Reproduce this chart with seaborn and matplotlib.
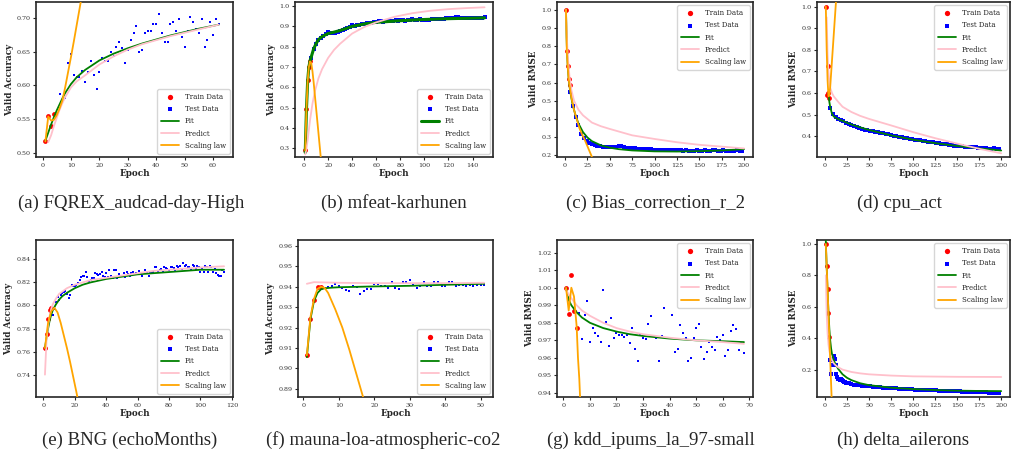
import matplotlib
matplotlib.use("Agg")
import matplotlib.pyplot as plt
import seaborn as sns
from matplotlib.ticker import MultipleLocator

sns.set_theme(style="ticks")
plt.rcParams['font.family'] = ['DejaVu Serif']

# ---------------- (a) FQREX_audcad-day-High ----------------
a_train_x = [1, 2, 3, 4]
a_train_y = [0.517, 0.554, 0.540, 0.557]
a_test_x = list(range(5, 63))
a_test_y = [0.554, 0.588, 0.579, 0.581, 0.633, 0.647, 0.616, 0.612, 0.612, 0.622,
            0.605, 0.620, 0.636, 0.616, 0.595, 0.620, 0.640, 0.636, 0.636, 0.650,
            0.643, 0.657, 0.664, 0.655, 0.633, 0.653, 0.667, 0.677, 0.688, 0.650,
            0.653, 0.677, 0.681, 0.681, 0.691, 0.691, 0.705, 0.677, 0.664, 0.664,
            0.691, 0.694, 0.681, 0.698, 0.671, 0.657, 0.681, 0.701, 0.694, 0.684,
            0.677, 0.698, 0.657, 0.667, 0.694, 0.674, 0.698, 0.691]
a_fit_x = [1, 2, 3, 4, 5, 6, 7, 8, 10, 12, 15, 20, 25, 30, 35, 40, 45, 50, 55, 62]
a_fit_y = [0.518, 0.530, 0.542, 0.553, 0.563, 0.572, 0.581, 0.589, 0.602, 0.612,
           0.623, 0.637, 0.647, 0.655, 0.662, 0.668, 0.674, 0.679, 0.684, 0.690]
a_pred_x = [2, 3, 4, 5, 6, 7, 8, 10, 12, 15, 20, 25, 30, 35, 40, 45, 50, 55, 62]
a_pred_y = [0.516, 0.526, 0.540, 0.552, 0.564, 0.574, 0.583, 0.597, 0.606, 0.615,
            0.631, 0.643, 0.653, 0.661, 0.667, 0.673, 0.678, 0.683, 0.690]
a_law_x = [1, 2, 3, 4, 5, 6, 7, 8, 9, 10, 11, 12, 13, 14]
a_law_y = [0.517, 0.554, 0.548, 0.549, 0.556, 0.566, 0.578, 0.598, 0.620, 0.642,
           0.665, 0.689, 0.713, 0.737]

# ---------------- (b) mfeat-karhunen ----------------
b_train_x = [1, 2, 3, 4, 5]
b_train_y = [0.290, 0.495, 0.636, 0.700, 0.730]
b_test_x = list(range(6, 151, 2))
b_test_y = [0.745, 0.790, 0.815, 0.835, 0.845, 0.855, 0.862, 0.874, 0.868, 0.866,
            0.870, 0.872, 0.878, 0.882, 0.888, 0.892, 0.898, 0.905, 0.904, 0.905,
            0.908, 0.912, 0.914, 0.916, 0.917, 0.918, 0.921, 0.924, 0.926, 0.925,
            0.924, 0.926, 0.928, 0.927, 0.929, 0.930, 0.928, 0.930, 0.931, 0.929,
            0.932, 0.933, 0.934, 0.932, 0.933, 0.935, 0.933, 0.932, 0.930, 0.933,
            0.936, 0.937, 0.936, 0.938, 0.937, 0.938, 0.940, 0.941, 0.942, 0.943,
            0.944, 0.946, 0.943, 0.942, 0.940, 0.941, 0.942, 0.941, 0.940, 0.941,
            0.942, 0.943, 0.944]
b_fit_x = [1, 2, 3, 4, 5, 6, 8, 10, 12, 15, 20, 25, 30, 40, 50, 60, 80, 100, 120, 150]
b_fit_y = [0.280, 0.490, 0.630, 0.700, 0.730, 0.750, 0.790, 0.815, 0.835, 0.850,
           0.865, 0.872, 0.880, 0.900, 0.912, 0.920, 0.928, 0.934, 0.938, 0.942]
b_pred_x = [1, 2, 3, 5, 7, 9, 12, 15, 20, 25, 30, 40, 50, 60, 75, 90, 105, 120, 135, 150]
b_pred_y = [0.270, 0.300, 0.340, 0.440, 0.520, 0.580, 0.645, 0.690, 0.745, 0.785,
            0.815, 0.865, 0.897, 0.920, 0.947, 0.965, 0.977, 0.985, 0.990, 0.994]
b_law_x = [1, 2, 3, 4, 5, 6, 7, 8, 10, 12, 14, 15]
b_law_y = [0.290, 0.490, 0.630, 0.700, 0.728, 0.720, 0.680, 0.625, 0.500, 0.375,
           0.250, 0.190]

# ---------------- (c) Bias_correction_r_2 ----------------
c_train_x = [1, 2, 3, 4, 5]
c_train_y = [1.000, 0.773, 0.688, 0.620, 0.587]
c_test_x = list(range(6, 199, 3))
c_test_y = [0.550, 0.470, 0.410, 0.365, 0.320, 0.295, 0.280, 0.270, 0.260, 0.256,
            0.252, 0.249, 0.247, 0.246, 0.245, 0.245, 0.246, 0.248, 0.251, 0.249,
            0.244, 0.241, 0.240, 0.238, 0.238, 0.237, 0.236, 0.236, 0.235, 0.234,
            0.233, 0.232, 0.232, 0.231, 0.230, 0.231, 0.230, 0.229, 0.228, 0.229,
            0.228, 0.227, 0.226, 0.227, 0.225, 0.224, 0.226, 0.228, 0.226, 0.225,
            0.228, 0.226, 0.224, 0.227, 0.229, 0.226, 0.225, 0.227, 0.226, 0.225,
            0.224, 0.226, 0.227, 0.225, 0.224]
c_fit_x = [1, 2, 3, 4, 5, 6, 8, 10, 12, 15, 20, 25, 30, 40, 50, 60, 75, 100, 125, 150, 175, 200]
c_fit_y = [1.000, 0.800, 0.690, 0.625, 0.580, 0.545, 0.490, 0.450, 0.415, 0.375,
           0.328, 0.298, 0.278, 0.255, 0.242, 0.234, 0.227, 0.222, 0.221, 0.223,
           0.227, 0.234]
c_pred_x = [1, 2, 3, 5, 7, 10, 15, 20, 30, 40, 50, 75, 100, 125, 150, 175, 200]
c_pred_y = [1.000, 0.850, 0.750, 0.630, 0.560, 0.500, 0.450, 0.420, 0.380, 0.360,
            0.345, 0.310, 0.290, 0.272, 0.258, 0.248, 0.238]
c_law_x = [1, 2, 3, 4, 5, 7, 10, 13, 16, 19, 22, 25, 28, 31]
c_law_y = [1.000, 0.770, 0.690, 0.620, 0.585, 0.520, 0.450, 0.400, 0.350, 0.315,
           0.285, 0.250, 0.215, 0.180]

# ---------------- (d) cpu_act ----------------
d_train_x = [1, 2, 3, 4, 5]
d_train_y = [1.000, 0.590, 0.727, 0.600, 0.578]
d_test_x = list(range(6, 199, 3))
d_test_y = [0.530, 0.505, 0.490, 0.481, 0.474, 0.469, 0.464, 0.458, 0.452, 0.447,
            0.442, 0.437, 0.434, 0.431, 0.428, 0.425, 0.423, 0.421, 0.419, 0.417,
            0.414, 0.412, 0.409, 0.406, 0.403, 0.401, 0.399, 0.397, 0.394, 0.392,
            0.389, 0.387, 0.385, 0.384, 0.382, 0.380, 0.378, 0.376, 0.374, 0.373,
            0.371, 0.369, 0.367, 0.366, 0.364, 0.362, 0.360, 0.358, 0.357, 0.356,
            0.354, 0.353, 0.352, 0.351, 0.350, 0.349, 0.348, 0.347, 0.346, 0.345,
            0.344, 0.344, 0.345, 0.343, 0.341]
d_fit_x = [4, 5, 6, 8, 10, 15, 20, 30, 40, 50, 75, 100, 125, 150, 175, 200]
d_fit_y = [0.600, 0.560, 0.535, 0.505, 0.492, 0.480, 0.472, 0.455, 0.442, 0.430,
           0.405, 0.385, 0.369, 0.356, 0.345, 0.335]
d_pred_x = [2, 3, 4, 5, 6, 8, 10, 15, 20, 30, 40, 50, 75, 100, 125, 150, 175, 200]
d_pred_y = [0.950, 0.780, 0.700, 0.655, 0.625, 0.600, 0.585, 0.560, 0.537, 0.513,
            0.495, 0.481, 0.451, 0.420, 0.392, 0.367, 0.343, 0.322]
d_law_x = [1, 2, 3, 4, 5, 6, 8, 10, 12, 13]
d_law_y = [1.000, 0.800, 0.660, 0.585, 0.590, 0.630, 0.750, 0.870, 0.990, 1.050]

# ---------------- (e) BNG (echoMonths) ----------------
e_train_x = [1, 2, 3, 4, 5]
e_train_y = [0.763, 0.775, 0.788, 0.796, 0.798]
e_test_x = list(range(6, 116))
e_test_y = [0.7915, 0.797, 0.803, 0.8075, 0.805, 0.809, 0.8105, 0.8115, 0.8125, 0.810,
            0.8065, 0.809, 0.8175, 0.8168, 0.817, 0.818, 0.8195, 0.822, 0.825, 0.826,
            0.826, 0.829, 0.825, 0.8215, 0.822, 0.824, 0.824, 0.828, 0.827, 0.8265,
            0.827, 0.829, 0.826, 0.825, 0.8285, 0.825, 0.831, 0.826, 0.824, 0.831,
            0.831, 0.8235, 0.827, 0.826, 0.826, 0.828, 0.825, 0.829, 0.8275, 0.826,
            0.828, 0.829, 0.827, 0.828, 0.8275, 0.830, 0.827, 0.826, 0.828, 0.831,
            0.828, 0.826, 0.829, 0.828, 0.829, 0.833, 0.833, 0.829, 0.831, 0.832,
            0.830, 0.833, 0.8325, 0.832, 0.831, 0.833, 0.8335, 0.8325, 0.831, 0.834,
            0.8335, 0.834, 0.832, 0.8365, 0.834, 0.835, 0.833, 0.8335, 0.832, 0.835,
            0.834, 0.832, 0.8345, 0.833, 0.829, 0.832, 0.829, 0.8345, 0.833, 0.829,
            0.8345, 0.833, 0.829, 0.8315, 0.828, 0.8265, 0.826, 0.8255, 0.831, 0.829]
e_fit_x = [1, 2, 3, 4, 5, 6, 8, 10, 12, 15, 20, 25, 30, 40, 50, 60, 70, 80, 90, 100, 115]
e_fit_y = [0.763, 0.772, 0.780, 0.787, 0.792, 0.796, 0.801, 0.805, 0.808, 0.811,
           0.815, 0.818, 0.820, 0.823, 0.825, 0.827, 0.828, 0.829, 0.830, 0.831, 0.831]
e_pred_x = [1, 2, 3, 4, 5, 6, 8, 10, 12, 15, 20, 25, 30, 40, 50, 60, 70, 80, 90, 100, 115]
e_pred_y = [0.740, 0.770, 0.783, 0.791, 0.797, 0.801, 0.806, 0.810, 0.812, 0.815,
            0.818, 0.820, 0.822, 0.824, 0.826, 0.828, 0.830, 0.831, 0.832, 0.833, 0.834]
e_law_x = [1, 3, 5, 7, 9, 11, 13, 15, 17, 19, 21, 23]
e_law_y = [0.763, 0.785, 0.795, 0.798, 0.794, 0.785, 0.774, 0.763, 0.751, 0.738,
           0.725, 0.711]

# ---------------- (f) mauna-loa-atmospheric-co2 ----------------
f_train_x = [1, 2, 3, 4, 5]
f_train_y = [0.9064, 0.9244, 0.9334, 0.9397, 0.9397]
f_test_x = list(range(6, 52))
f_test_y = [0.9395, 0.9397, 0.9403, 0.9413, 0.9403, 0.9392, 0.9384, 0.9378, 0.9403, 0.9397,
            0.9367, 0.9378, 0.9389, 0.9389, 0.9413, 0.9413, 0.9403, 0.9403, 0.9395, 0.9425,
            0.9395, 0.9389, 0.9425, 0.9425, 0.9433, 0.9413, 0.9395, 0.9403, 0.9425, 0.9403,
            0.9403, 0.9425, 0.9425, 0.9403, 0.9403, 0.9425, 0.9425, 0.9403, 0.9410, 0.9410,
            0.9403, 0.9410, 0.9403, 0.9410, 0.9410, 0.9410]
f_fit_x = [1, 2, 3, 4, 5, 6, 8, 10, 20, 30, 40, 51]
f_fit_y = [0.9055, 0.9240, 0.9330, 0.9370, 0.9388, 0.9393, 0.9396, 0.9398, 0.9402,
           0.9405, 0.9410, 0.9415]
f_pred_x = [1, 3, 5, 10, 20, 30, 40, 51]
f_pred_y = [0.9415, 0.9423, 0.9422, 0.9420, 0.9418, 0.9418, 0.9418, 0.9420]
f_law_x = [1, 2, 3, 4, 5, 6, 7, 8, 9, 10, 11, 12, 13, 14, 15, 16, 17]
f_law_y = [0.9064, 0.9250, 0.9340, 0.9390, 0.9400, 0.9395, 0.9370, 0.9330, 0.9290,
           0.9245, 0.9200, 0.9145, 0.9090, 0.9030, 0.8970, 0.8910, 0.8850]

# ---------------- (g) kdd_ipums_la_97-small ----------------
g_train_x = [1, 2, 3, 4, 5]
g_train_y = [1.0000, 0.9848, 1.0072, 0.9867, 0.9768]
g_test_x = list(range(6, 69))
g_test_y = [0.9857, 0.9709, 0.9844, 0.9926, 0.9691, 0.9768, 0.9743, 0.9724, 0.9691, 0.9987,
            0.9802, 0.9667, 0.9829, 0.9714, 0.9743, 0.9733, 0.9733, 0.9720, 0.9729, 0.9682,
            0.9768, 0.9653, 0.9581, 0.9729, 0.9714, 0.9709, 0.9792, 0.9838, 0.9724, 0.9714,
            0.9581, 0.9724, 0.9882, 0.9714, 0.9714, 0.9842, 0.9634, 0.9651, 0.9787, 0.9743,
            0.9714, 0.9581, 0.9602, 0.9714, 0.9768, 0.9794, 0.9663, 0.9591, 0.9634, 0.9690,
            0.9663, 0.9644, 0.9718, 0.9700, 0.9729, 0.9611, 0.9644, 0.9754, 0.9787, 0.9762,
            0.9644, 0.9682, 0.9630]
g_fit_x = [1, 2, 3, 4, 5, 7, 10, 15, 20, 25, 30, 40, 50, 60, 68]
g_fit_y = [1.000, 0.993, 0.990, 0.988, 0.986, 0.983, 0.980, 0.977, 0.975, 0.9735,
           0.9725, 0.971, 0.970, 0.9695, 0.969]
g_pred_x = [1, 2, 3, 5, 7, 10, 15, 20, 25, 30, 40, 50, 60, 68]
g_pred_y = [0.999, 0.996, 0.994, 0.990, 0.987, 0.984, 0.980, 0.977, 0.975, 0.9735,
            0.9715, 0.970, 0.969, 0.968]
g_law_x = [1, 2, 3, 4, 5, 5.5, 6, 6.5]
g_law_y = [1.000, 0.987, 1.000, 0.995, 0.978, 0.960, 0.948, 0.930]

# ---------------- (h) delta_ailerons ----------------
h_train_x = [1, 2, 3, 4, 5]
h_train_y = [1.000, 0.860, 0.715, 0.562, 0.405]
h_test_x = list(range(6, 25)) + list(range(27, 199, 3))
h_test_y = [0.260, 0.170, 0.230, 0.270, 0.285, 0.265, 0.230, 0.175, 0.150, 0.138,
            0.142, 0.135, 0.140, 0.136, 0.130, 0.127, 0.122, 0.119, 0.116,
            0.112, 0.108, 0.105, 0.103, 0.100, 0.098, 0.096, 0.094, 0.093, 0.091,
            0.090, 0.088, 0.087, 0.086, 0.084, 0.083, 0.082, 0.081, 0.080, 0.079,
            0.078, 0.077, 0.076, 0.075, 0.074, 0.073, 0.072, 0.072, 0.071, 0.070,
            0.069, 0.068, 0.068, 0.067, 0.066, 0.065, 0.065, 0.064, 0.063, 0.063,
            0.062, 0.061, 0.061, 0.060, 0.059, 0.059, 0.058, 0.057, 0.057, 0.056,
            0.056, 0.055, 0.055, 0.054, 0.054, 0.053, 0.053, 0.052]
h_fit_x = [1, 2, 3, 4, 5, 6, 7, 8, 10, 12, 15, 20, 25, 30, 40, 50, 75, 100, 125, 150, 175, 200]
h_fit_y = [1.020, 0.850, 0.700, 0.570, 0.460, 0.385, 0.335, 0.300, 0.260, 0.235,
           0.205, 0.170, 0.148, 0.133, 0.113, 0.101, 0.085, 0.076, 0.070, 0.066,
           0.064, 0.063]
h_pred_x = [1, 2, 3, 4, 5, 6, 8, 10, 12, 15, 20, 30, 40, 50, 75, 100, 150, 200]
h_pred_y = [0.800, 0.550, 0.430, 0.360, 0.320, 0.290, 0.260, 0.240, 0.228, 0.215,
            0.200, 0.185, 0.176, 0.170, 0.162, 0.157, 0.154, 0.153]
h_law_x = [1, 2, 3, 4, 5, 6, 7, 8]
h_law_y = [1.000, 0.860, 0.715, 0.560, 0.410, 0.260, 0.110, -0.040]

captions = ["(a) FQREX_audcad-day-High", "(b) mfeat-karhunen", "(c) Bias_correction_r_2",
            "(d) cpu_act", "(e) BNG (echoMonths)", "(f) mauna-loa-atmospheric-co2",
            "(g) kdd_ipums_la_97-small", "(h) delta_ailerons"]
ylabels = ["Valid Accuracy", "Valid Accuracy", "Valid RMSE", "Valid RMSE",
           "Valid Accuracy", "Valid Accuracy", "Valid RMSE", "Valid RMSE"]

series = [
    (a_train_x, a_train_y, a_test_x, a_test_y, a_fit_x, a_fit_y, a_pred_x, a_pred_y, a_law_x, a_law_y),
    (b_train_x, b_train_y, b_test_x, b_test_y, b_fit_x, b_fit_y, b_pred_x, b_pred_y, b_law_x, b_law_y),
    (c_train_x, c_train_y, c_test_x, c_test_y, c_fit_x, c_fit_y, c_pred_x, c_pred_y, c_law_x, c_law_y),
    (d_train_x, d_train_y, d_test_x, d_test_y, d_fit_x, d_fit_y, d_pred_x, d_pred_y, d_law_x, d_law_y),
    (e_train_x, e_train_y, e_test_x, e_test_y, e_fit_x, e_fit_y, e_pred_x, e_pred_y, e_law_x, e_law_y),
    (f_train_x, f_train_y, f_test_x, f_test_y, f_fit_x, f_fit_y, f_pred_x, f_pred_y, f_law_x, f_law_y),
    (g_train_x, g_train_y, g_test_x, g_test_y, g_fit_x, g_fit_y, g_pred_x, g_pred_y, g_law_x, g_law_y),
    (h_train_x, h_train_y, h_test_x, h_test_y, h_fit_x, h_fit_y, h_pred_x, h_pred_y, h_law_x, h_law_y),
]

# layout: axes box in pixels (left, top, right, bottom), limits, tick steps, legend place, caption centre
W, H = 1012, 457
boxes = [(36, 2, 233, 157), (295, 2, 493, 157), (557, 2, 753, 157), (817, 2, 1010, 157),
         (36, 240, 233, 397), (298, 240, 493, 397), (557, 240, 753, 397), (817, 240, 1010, 397)]
xlims = [(-2.3, 67), (-7.5, 157), (-9, 210), (-9, 210), (-4.7, 120.7), (-1.5, 53.5), (-2.4, 71.4), (-9, 210)]
ylims = [(0.494, 0.7235), (0.258, 1.02), (0.191, 1.042), (0.305, 1.021),
         (0.7206, 0.8568), (0.8859, 0.963), (0.9377, 1.0272), (0.0255, 1.0255)]
xsteps = [10, 20, 25, 25, 20, 10, 10, 25]
ysteps = [0.05, 0.1, 0.1, 0.1, 0.02, 0.01, 0.01, 0.2]
test_size = [4.5, 7, 7, 7, 4.5, 4.5, 4.5, 7]
legend_loc = ["lower right", "lower right", "upper right", "upper right",
              "lower right", "lower right", "upper right", "upper right"]
cap_pos = [(131, 203), (394, 203), (655, 203), (899, 203),
           (130, 440), (383, 440), (651, 440), (903, 440)]

fig = plt.figure(figsize=(W / 100, H / 100), dpi=100)

for i, (trx, tr_y, tex, tey, fx, fy, px, py, lx, ly) in enumerate(series):
    l, t, r, b = boxes[i]
    ax = fig.add_axes([l / W, 1 - b / H, (r - l) / W, (b - t) / H])
    sns.scatterplot(x=trx, y=tr_y, color="red", s=12, linewidth=0, label="Train Data", ax=ax, zorder=3)
    sns.scatterplot(x=tex, y=tey, color="blue", marker="s", s=test_size[i], linewidth=0,
                    label="Test Data", ax=ax, zorder=3)
    sns.lineplot(x=fx, y=fy, color="green", lw=2.2 if i == 1 else 1.3, label="Fit",
                 estimator=None, sort=False, ax=ax, zorder=4)
    sns.lineplot(x=px, y=py, color="pink", lw=1.3, label="Predict",
                 estimator=None, sort=False, ax=ax, zorder=4)
    sns.lineplot(x=lx, y=ly, color="orange", lw=1.3, label="Scaling law",
                 estimator=None, sort=False, ax=ax, zorder=5)
    ax.set_xlim(*xlims[i])
    ax.set_ylim(*ylims[i])
    ax.xaxis.set_major_locator(MultipleLocator(xsteps[i]))
    ax.yaxis.set_major_locator(MultipleLocator(ysteps[i]))
    ax.tick_params(labelsize=4.6, length=2.5, width=0.8, pad=1.5, labelcolor="#333333")
    ax.set_xlabel("Epoch", fontsize=6.3, fontweight="bold", labelpad=1)
    ax.set_ylabel(ylabels[i], fontsize=6.3, fontweight="bold", labelpad=2)
    for sp in ax.spines.values():
        sp.set_linewidth(1.2)
        sp.set_color("#262626")
    ax.legend(loc=legend_loc[i], fontsize=5.0, borderaxespad=0.5, handlelength=2.6,
              labelspacing=0.6, borderpad=0.55, markerscale=1.1)
    cx, cy = cap_pos[i]
    fig.text(cx / W, 1 - cy / H, captions[i], ha="center", va="center",
             family=["Liberation Serif"], fontsize=13.5)

fig.savefig("out.png", dpi=100)
